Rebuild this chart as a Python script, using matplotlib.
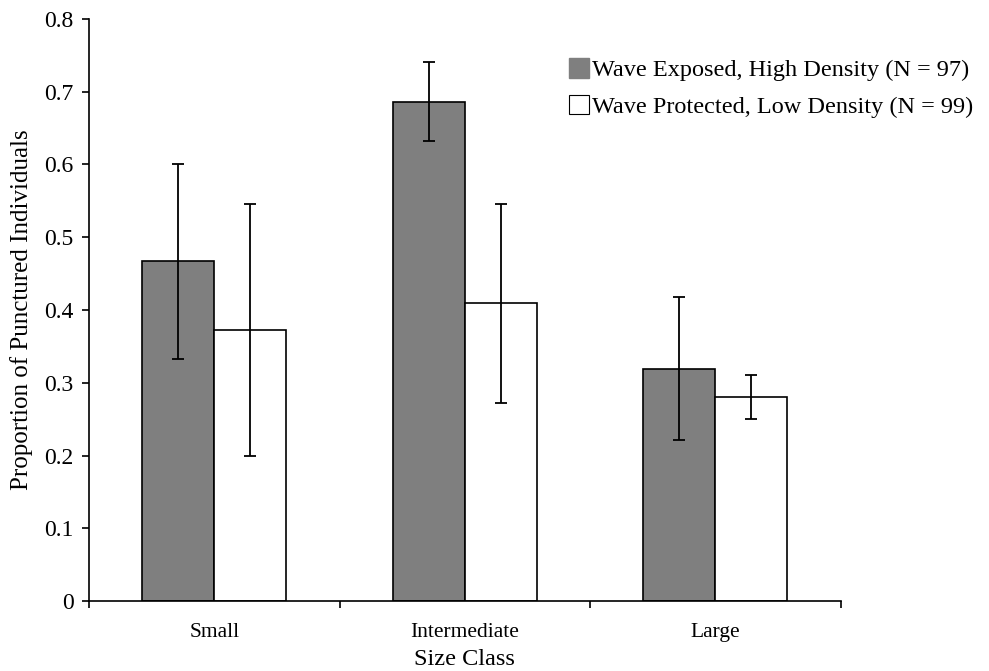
import matplotlib
matplotlib.use("Agg")
import matplotlib.pyplot as plt
import numpy as np
from matplotlib.patches import Patch

categories = ["Small", "Intermediate", "Large"]
exposed = [0.467, 0.686, 0.319]
exposed_lo = [0.333, 0.632, 0.222]
exposed_hi = [0.600, 0.741, 0.418]
protected = [0.373, 0.409, 0.280]
protected_lo = [0.200, 0.272, 0.250]
protected_hi = [0.546, 0.546, 0.310]
legend_labels = ["Wave Exposed, High Density (N = 97)", "Wave Protected, Low Density (N = 99)"]
yticks = [0, 0.1, 0.2, 0.3, 0.4, 0.5, 0.6, 0.7, 0.8]

plt.rcParams['font.family'] = ['Liberation Serif', 'DejaVu Serif']

fig = plt.figure(figsize=(9.89, 6.71), dpi=100)
ax = fig.add_axes([0.090, 0.1043, 0.760, 0.8674])

x = np.arange(len(categories))
w = 0.287
e_err = [np.array(exposed) - np.array(exposed_lo), np.array(exposed_hi) - np.array(exposed)]
p_err = [np.array(protected) - np.array(protected_lo), np.array(protected_hi) - np.array(protected)]

ax.bar(x - w/2, exposed, w, color="#7f7f7f", edgecolor="black", linewidth=1.2, zorder=2)
ax.bar(x + w/2, protected, w, color="white", edgecolor="black", linewidth=1.2, zorder=2)
ax.errorbar(x - w/2, exposed, yerr=e_err, fmt="none", ecolor="black", elinewidth=1.3, capsize=4, capthick=1.3, zorder=3)
ax.errorbar(x + w/2, protected, yerr=p_err, fmt="none", ecolor="black", elinewidth=1.3, capsize=4, capthick=1.3, zorder=3)

ax.set_xlim(-0.5, 2.5)
ax.set_ylim(0, 0.8)
ax.set_yticks(yticks)
ax.set_yticklabels(["0" if v == 0 else f"{v:.1f}" for v in yticks], fontsize=17)
ax.set_xticks([-0.5, 0.5, 1.5, 2.5])
ax.set_xticklabels([])
ax.set_xticks(x, minor=True)
ax.set_xticklabels(categories, minor=True, fontsize=15.5)
ax.tick_params(axis="x", which="minor", length=0, pad=16)
ax.tick_params(axis="x", which="major", length=5, width=1.2, direction="out")
ax.tick_params(axis="y", length=5, width=1.2, direction="out", pad=6)
for s in ["top", "right"]:
    ax.spines[s].set_visible(False)
for s in ["left", "bottom"]:
    ax.spines[s].set_linewidth(1.2)

ax.set_ylabel("Proportion of Punctured Individuals", fontsize=18, labelpad=8)
ax.set_xlabel("Size Class", fontsize=17.5, va="bottom")
ax.xaxis.set_label_coords(0.5, -0.118)

handles = [Patch(facecolor="#7f7f7f", edgecolor="#7f7f7f"), Patch(facecolor="white", edgecolor="black", linewidth=0.8)]
fig.legend(handles, legend_labels, loc="upper left", bbox_to_anchor=(0.575, 0.913), frameon=False,
           fontsize=17.5, handlelength=0.85, handleheight=0.85, handletextpad=0.12, labelspacing=0.55,
           borderaxespad=0, borderpad=0)

fig.savefig("out.png", dpi=100)
